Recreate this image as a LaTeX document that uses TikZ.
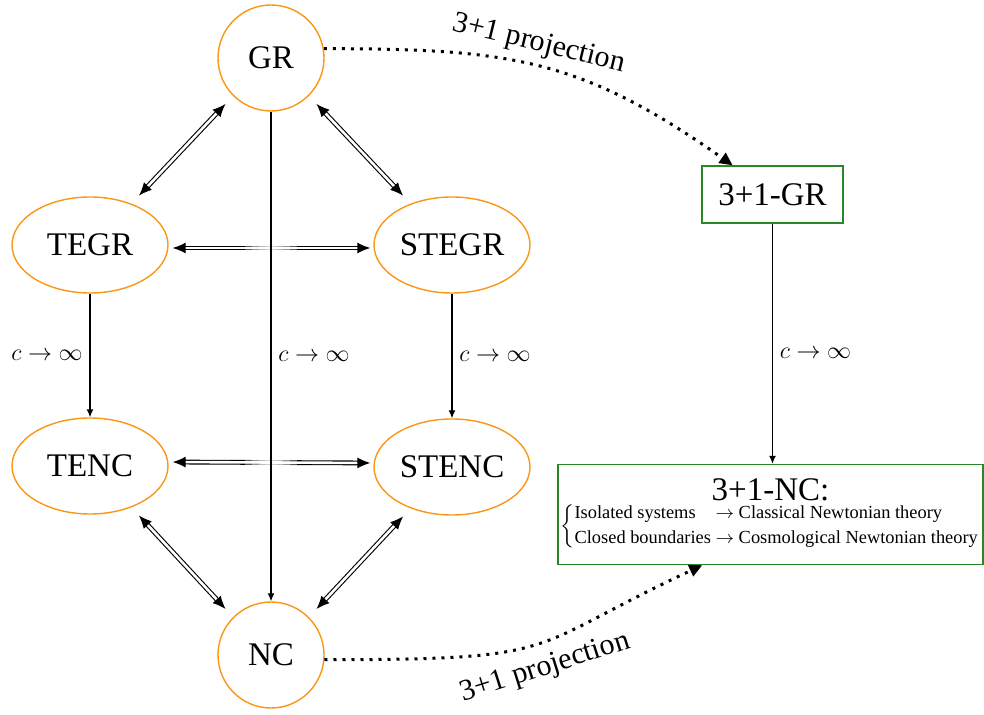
\documentclass[tikz,border=0pt]{standalone}
\usepackage{amsmath}
\usepackage{fontspec}
\setmainfont{Liberation Serif}
\usetikzlibrary{arrows.meta,calc,shapes.geometric}
\definecolor{ringorange}{RGB}{250,150,20}
\definecolor{boxgreen}{RGB}{40,135,40}
\begin{document}
\begin{tikzpicture}[x=0.5pt,y=-0.5pt,
  theory/.style={draw=ringorange, line width=0.7pt, ellipse, minimum width=78pt, minimum height=48pt, inner sep=0pt, font=\fontsize{16.5}{19}\selectfont},
  pole/.style={draw=ringorange, line width=0.7pt, circle, minimum size=53pt, inner sep=0pt, font=\fontsize{16.5}{19}\selectfont},
  gbox/.style={draw=boxgreen, line width=0.7pt, rectangle, inner sep=0pt, align=center},
  dbl/.style={double, double distance=1.3pt, line width=0.55pt, {Latex[length=6.5pt,width=5.5pt]}-{Latex[length=6.5pt,width=5.5pt]}},
  lim/.style={line width=0.6pt, -{Latex[length=4pt,width=3.5pt]}},
  limlabel/.style={font=\fontsize{12}{14}\selectfont},
  proj/.style={line width=1.5pt, dash pattern=on 1.5pt off 3pt, -{Triangle[length=6.5pt,width=6pt]}},
  projlabel/.style={font=\fontsize{15}{17}\selectfont, sloped},
  haze/.style={fill=white, opacity=0.35},
]
\useasboundingbox (0,0) rectangle (984,715);
% nodes
\node[pole] (gr) at (271,58) {GR};
\node[theory] (tegr) at (90,245) {TEGR};
\node[theory] (stegr) at (452,245) {STEGR};
\node[theory] (tenc) at (90,466) {TENC};
\node[theory] (stenc) at (452,467) {STENC};
\node[pole] (nc) at (271,655) {NC};
\node[gbox, minimum width=70.5pt, minimum height=28.5pt, font=\fontsize{16.5}{19}\selectfont] (gr31) at (772.5,194.5) {3+1-GR};
\node[gbox, minimum width=212.5pt, minimum height=50pt] (nc31) at (770.5,514.5) {%
  {\fontsize{16.5}{19}\selectfont 3+1-NC:}\\[0pt]
  {\fontsize{9.2}{11}\selectfont $\left\{\begin{tabular}{@{}l@{ }l@{}}Isolated systems & $\rightarrow$ Classical Newtonian theory\\[1.5pt]
  Closed boundaries & $\rightarrow$ Cosmological Newtonian theory\end{tabular}\right.$}};
% double arrows
\draw[dbl, shorten <=5.5pt, shorten >=5.5pt] (gr.225) -- (tegr.45);
\draw[dbl, shorten <=5.5pt, shorten >=5.5pt] (gr.315) -- (stegr.135);
\draw[dbl, shorten <=5.5pt, shorten >=5.5pt] (tenc.315) -- (nc.135);
\draw[dbl, shorten <=5.5pt, shorten >=5.5pt] (stenc.225) -- (nc.45);
\coordinate (tegrR) at ([yshift=-1.5pt]tegr.east);
\coordinate (stegrL) at ([yshift=-1.5pt]stegr.west);
\coordinate (tencR) at ([yshift=2pt]tenc.east);
\coordinate (stencL) at ([yshift=2pt]stenc.west);
\draw[dbl, shorten <=2pt, shorten >=1.5pt] (tegrR) -- (stegrL);
\draw[dbl, shorten <=2pt, shorten >=1.5pt] (tencR) -- (stencL);
% faded crossings
\foreach \w in {26,19,12,6} {
  \fill[haze] ($(gr.south |- tegrR)+(-\w,-4)$) rectangle ($(gr.south |- tegrR)+(\w,4)$);
  \fill[haze] ($(gr.south |- tencR)+(-\w,-4)$) rectangle ($(gr.south |- tencR)+(\w,4)$);
}
% limits
\draw[lim] (gr) -- node[right, limlabel] {$c\to\infty$} (nc);
\draw[lim] (tegr) -- node[left, limlabel] {$c\to\infty$} (tenc);
\draw[lim] (stegr) -- node[right, limlabel] {$c\to\infty$} (stenc);
\draw[lim] (gr31.south) -- node[right, limlabel, pos=0.54] {$c\to\infty$} (gr31.south |- nc31.north);
% projections
\coordinate (gr31in) at ($(gr31.north west)!0.22!(gr31.north east)$);
\coordinate (nc31in) at ($(nc31.south west)!0.34!(nc31.south east)$);
\draw[proj] (gr.10) .. controls +(186,0) and +(-152,-107) .. node[projlabel, above, pos=0.48] {3+1 projection} (gr31in);
\draw[proj] (nc.-5) .. controls +(245,0) and +(-180,84) .. node[projlabel, below=2pt, pos=0.5] {3+1 projection} (nc31in);
\end{tikzpicture}
\end{document}
